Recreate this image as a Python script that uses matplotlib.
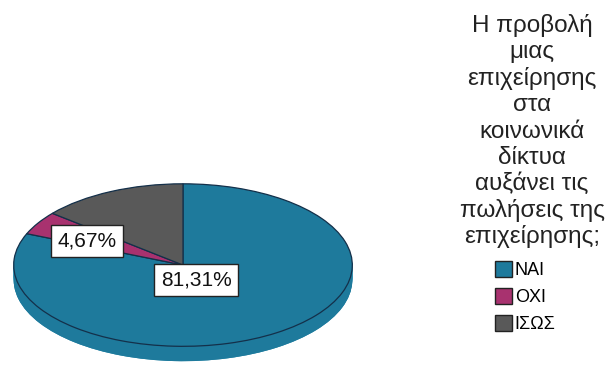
import numpy as np
import matplotlib
matplotlib.use("Agg")
import matplotlib.pyplot as plt
from matplotlib.patches import Patch
from matplotlib.colors import to_rgb

categories = ["ΝΑΙ", "ΟΧΙ", "ΙΣΩΣ"]
percentages = [81.31, 4.67, 14.02]
colors = ["#1E7A9C", "#A8326F", "#595959"]
shown_labels = {"ΝΑΙ": "81,31%", "ΟΧΙ": "4,67%"}
title_lines = ["Η προβολή", "μιας", "επιχείρησης", "στα", "κοινωνικά",
               "δίκτυα", "αυξάνει τις", "πωλήσεις της", "επιχείρησης;"]

W, H = 613, 367
fig = plt.figure(figsize=(W / 100, H / 100), dpi=100)
fig.patch.set_facecolor("white")
plt.rcParams["font.family"] = ["Liberation Sans", "DejaVu Sans"]

# pie geometry in pixels
cx, cy, a, b, depth = 183, 265, 171, 82, 15
dd = depth / b
ax = fig.add_axes([(cx - a) / W, 1 - (cy + b + depth) / H,
                   2 * a / W, (2 * b + depth) / H])


def shade(c, f):
    r, g, bl = to_rgb(c)
    return (min(r * f, 1), min(g * f, 1), min(bl * f, 1))


# side wall built from stacked layers
for k in np.linspace(dd, 0.0, 16)[:-1]:
    ax.pie(percentages, colors=[shade(c, 1.08) for c in colors],
           startangle=90, counterclock=False, center=(0, -k), radius=1,
           wedgeprops=dict(linewidth=0))
ax.pie(percentages, colors=[shade(c, 1.0) for c in colors], startangle=90,
       counterclock=False, center=(0, -dd), radius=1,
       wedgeprops=dict(linewidth=0))
# top face
ax.pie(percentages, colors=colors, startangle=90, counterclock=False,
       radius=1, wedgeprops=dict(linewidth=0.9, edgecolor="#14304a"))
ax.set_aspect("auto")
ax.set_xlim(-1.01, 1.01)
ax.set_ylim(-1 - dd - 0.01, 1.01)
ax.axis("off")

# value labels
label_pos = {"ΝΑΙ": (196, 280), "ΟΧΙ": (87, 241)}
for cat in categories:
    if cat in shown_labels:
        px, py = label_pos[cat]
        fig.text(px / W, 1 - py / H, shown_labels[cat], ha="center",
                 va="center", fontsize=15, color="#111111",
                 bbox=dict(boxstyle="square,pad=0.3", facecolor="white",
                           edgecolor="#222222", linewidth=1.0))

# legend title
for i, line in enumerate(title_lines):
    fig.text(532 / W, 1 - (32 + i * 26.4) / H, line, ha="center",
             va="baseline", fontsize=17.5, color="#222222")

handles = [Patch(facecolor=c, edgecolor="#222222", linewidth=1.0)
           for c in colors]
fig.legend(handles, categories, loc="upper left",
           bbox_to_anchor=(495 / W, 1 - 261 / H), frameon=False,
           fontsize=13, handlelength=0.95, handleheight=0.95,
           handletextpad=0.15, labelspacing=0.5, borderpad=0,
           borderaxespad=0)

fig.savefig("out.png", dpi=100, facecolor="white")
